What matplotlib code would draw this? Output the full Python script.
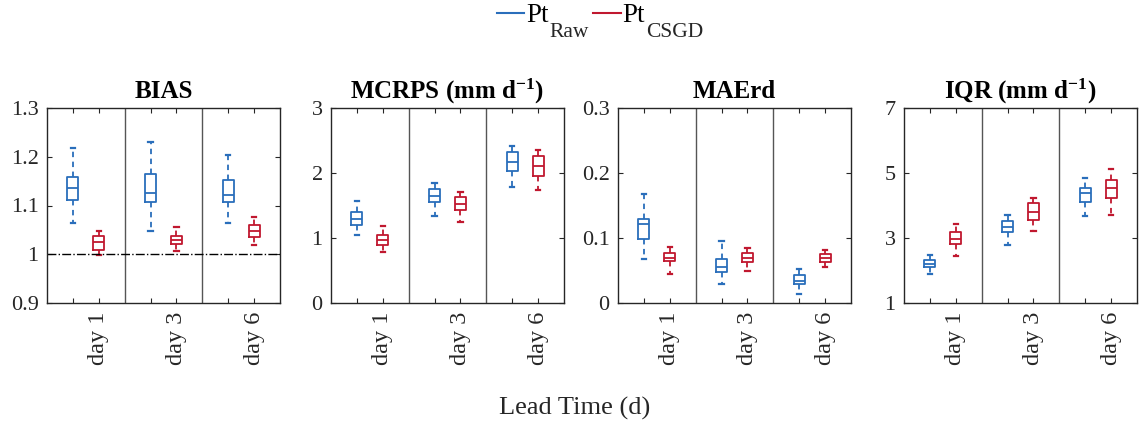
import matplotlib
matplotlib.use("Agg")
import matplotlib.pyplot as plt
from matplotlib.lines import Line2D

plt.rcParams['font.family'] = ['Liberation Serif', 'DejaVu Serif']
plt.rcParams['mathtext.fontset'] = 'custom'
plt.rcParams['mathtext.rm'] = 'Liberation Serif'
plt.rcParams['mathtext.it'] = 'Liberation Serif:italic'
plt.rcParams['mathtext.bf'] = 'Liberation Serif:bold'

# lead days and panel titles
days = ["day 1", "day 3", "day 6"]
titles = ["BIAS", r"MCRPS (mm d$^{\mathbf{-1}}$)", "MAErd", r"IQR (mm d$^{\mathbf{-1}}$)"]
series_names = ["Raw", "CSGD"]

# box stats per lead day: [whisker low, q1, median, q3, whisker high]
bias_raw = [[1.065, 1.111, 1.135, 1.158, 1.217],
            [1.047, 1.108, 1.126, 1.165, 1.230],
            [1.065, 1.108, 1.122, 1.152, 1.203]]
bias_csgd = [[0.999, 1.009, 1.025, 1.038, 1.048],
             [1.007, 1.021, 1.029, 1.037, 1.055],
             [1.018, 1.035, 1.047, 1.059, 1.076]]
mcrps_raw = [[1.05, 1.205, 1.29, 1.40, 1.564],
             [1.333, 1.549, 1.641, 1.759, 1.846],
             [1.779, 2.026, 2.174, 2.323, 2.42]]
mcrps_csgd = [[0.785, 0.887, 0.974, 1.05, 1.179],
              [1.246, 1.436, 1.528, 1.631, 1.713],
              [1.744, 1.949, 2.108, 2.267, 2.359]]
maerd_raw = [[0.068, 0.099, 0.122, 0.129, 0.167],
             [0.030, 0.048, 0.056, 0.068, 0.095],
             [0.014, 0.029, 0.034, 0.043, 0.053]]
maerd_csgd = [[0.045, 0.064, 0.070, 0.077, 0.086],
              [0.050, 0.063, 0.069, 0.077, 0.084],
              [0.055, 0.063, 0.069, 0.076, 0.082]]
iqr_raw = [[1.90, 2.10, 2.21, 2.33, 2.467],
           [2.77, 3.17, 3.34, 3.53, 3.70],
           [3.69, 4.11, 4.38, 4.54, 4.86]]
iqr_csgd = [[2.46, 2.82, 2.98, 3.19, 3.43],
            [3.23, 3.54, 3.80, 4.08, 4.24],
            [3.72, 4.23, 4.54, 4.79, 5.13]]

ylims = [(0.9, 1.3), (0, 3), (0, 0.3), (1, 7)]
yticks = [[0.9, 1.0, 1.1, 1.2, 1.3], [0, 1, 2, 3], [0, 0.1, 0.2, 0.3], [1, 3, 5, 7]]
yticklabels = [["0.9", "1", "1.1", "1.2", "1.3"], ["0", "1", "2", "3"],
               ["0", "0.1", "0.2", "0.3"], ["1", "3", "5", "7"]]

blue = '#2a6ebb'
red = '#c0182f'
dark = '#262626'


def to_stats(rows):
    out = []
    for lo, q1, med, q3, hi in rows:
        out.append(dict(whislo=lo, q1=q1, med=med, q3=q3, whishi=hi, fliers=[]))
    return out


def draw_boxes(ax, rows, positions, color):
    ax.bxp(to_stats(rows), positions=positions, widths=0.42, capwidths=0.16,
           showfliers=False, manage_ticks=False,
           boxprops=dict(color=color, linewidth=1.3),
           medianprops=dict(color=color, linewidth=1.3),
           whiskerprops=dict(color=color, linewidth=1.3, linestyle=(0, (3, 2.5))),
           capprops=dict(color=color, linewidth=1.6))


fig = plt.figure(figsize=(11.4, 4.26), dpi=100)
W, H = 1140, 426
raw_all = [bias_raw, mcrps_raw, maerd_raw, iqr_raw]
csgd_all = [bias_csgd, mcrps_csgd, maerd_csgd, iqr_csgd]
lefts = [47, 331, 618, 904]
for i in range(4):
    ax = fig.add_axes([lefts[i] / W, 1 - 303 / H, 233 / W, 195 / H])
    draw_boxes(ax, raw_all[i], [1, 4, 7], blue)
    draw_boxes(ax, csgd_all[i], [2, 5, 8], red)
    for x in [3, 6]:
        ax.axvline(x, color='#555555', linewidth=1.0)
    if i == 0:
        ax.axhline(1.0, color='black', linewidth=1.0, linestyle='-.')
    ax.set_xlim(0, 9)
    ax.set_ylim(*ylims[i])
    ax.set_yticks(yticks[i])
    ax.set_yticklabels(yticklabels[i])
    ax.set_xticks([1, 2, 4, 5, 7, 8])
    ax.set_xticklabels(["", days[0], "", days[1], "", days[2]], rotation=90)
    ax.tick_params(direction='in', top=True, right=True, length=3.5,
                   colors=dark, width=0.8)
    ax.tick_params(axis='y', labelsize=16, pad=6)
    ax.tick_params(axis='x', labelsize=17.5, pad=6)
    for s in ax.spines.values():
        s.set_color(dark)
        s.set_linewidth(1.0)
    ax.set_title(titles[i], fontsize=18, fontweight='bold', pad=7)

# legend: "Pt" labels, subscripts added below the baseline afterwards
handles = [Line2D([], [], color=blue, linewidth=1.5),
           Line2D([], [], color=red, linewidth=1.5)]
leg = fig.legend(handles, ["Pt", "Pt"], loc='center left',
                 bbox_to_anchor=(497 / W, 1 - 16 / H), ncol=2, frameon=False,
                 fontsize=19.5, handlelength=1.0, handletextpad=0.08,
                 columnspacing=1.65, borderpad=0, borderaxespad=0)
fig.canvas.draw()
renderer = fig.canvas.get_renderer()
for t, name in zip(leg.get_texts(), series_names):
    bb = t.get_window_extent(renderer)
    fig.text(bb.x1 / W + 1 / W, 1 - 37 / H, name, ha='left', va='baseline',
             fontsize=15.5, color=dark)

fig.text(575 / W, 1 - 408 / H, "Lead Time (d)", ha='center', va='center',
         fontsize=19, color=dark)

fig.savefig("out.png", dpi=100)
